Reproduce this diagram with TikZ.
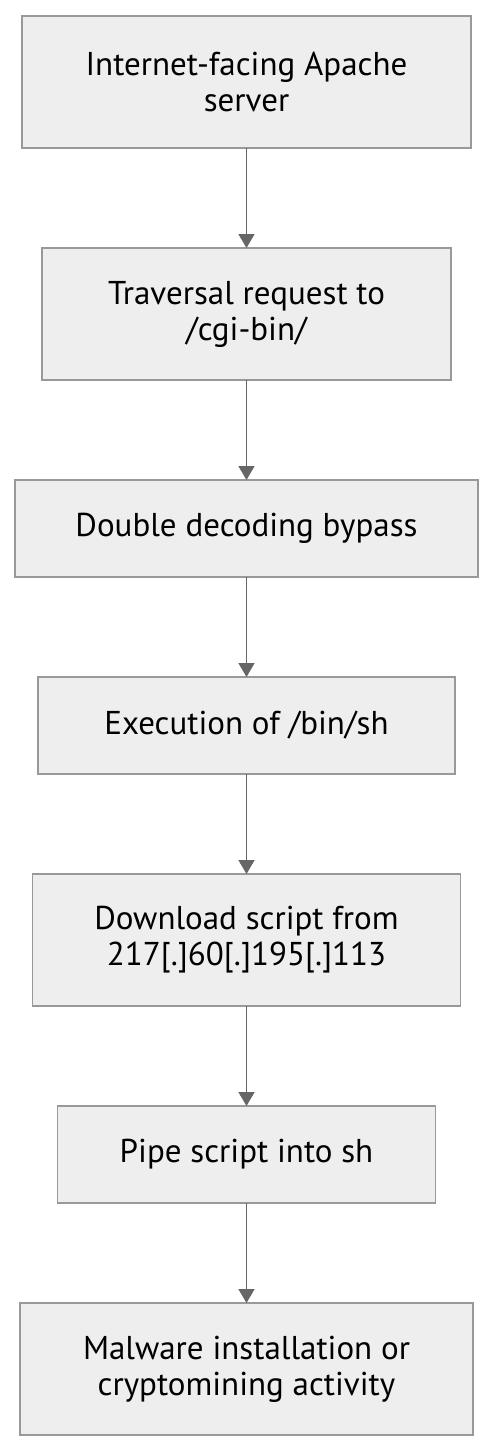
\documentclass[tikz,border=0pt]{standalone}
\usepackage{fontspec}
\setmainfont{PT Sans}
\usepackage{tikz}
\usetikzlibrary{positioning,arrows.meta}
\usepackage{xcolor}
\definecolor{boxfill}{HTML}{EEEEEE}
\definecolor{boxline}{HTML}{999999}
\definecolor{arrowgray}{HTML}{666666}

\begin{document}
\begin{tikzpicture}[node distance=100pt,
  flow/.style={draw=arrowgray,line width=1.6pt,-{Triangle[length=14pt,width=16pt]}}]
\tikzstyle{stage}=[draw=boxline, fill=boxfill, line width=1.4pt, align=center,
  inner sep=0pt, outer sep=0pt, font=\fontsize{33}{36}\selectfont]
\useasboundingbox (0,0) rectangle (494pt,-1451pt);
\node [stage, minimum width=449pt, minimum height=132pt] (apache) at (246.5pt,-82pt)
  {Internet-facing Apache\\server};
\node [stage, minimum width=409pt, minimum height=132pt, below=of apache] (traversal)
  {Traversal request to\\/cgi-bin/};
\node [stage, minimum width=463pt, minimum height=97pt, below=of traversal] (decode)
  {Double decoding bypass};
\node [stage, minimum width=417pt, minimum height=97pt, below=of decode] (exec)
  {Execution of /bin/sh};
\node [stage, minimum width=428pt, minimum height=132pt, below=of exec] (download)
  {Download script from\\217[.]60[.]195[.]113};
\node [stage, minimum width=378pt, minimum height=97pt, below=of download] (pipe)
  {Pipe script into sh};
\node [stage, minimum width=453pt, minimum height=132pt, below=of pipe] (malware)
  {Malware installation or\\cryptomining activity};

\draw [flow] (apache) -- (traversal);
\draw [flow] (traversal) -- (decode);
\draw [flow] (decode) -- (exec);
\draw [flow] (exec) -- (download);
\draw [flow] (download) -- (pipe);
\draw [flow] (pipe) -- (malware);

\end{tikzpicture}
\end{document}
